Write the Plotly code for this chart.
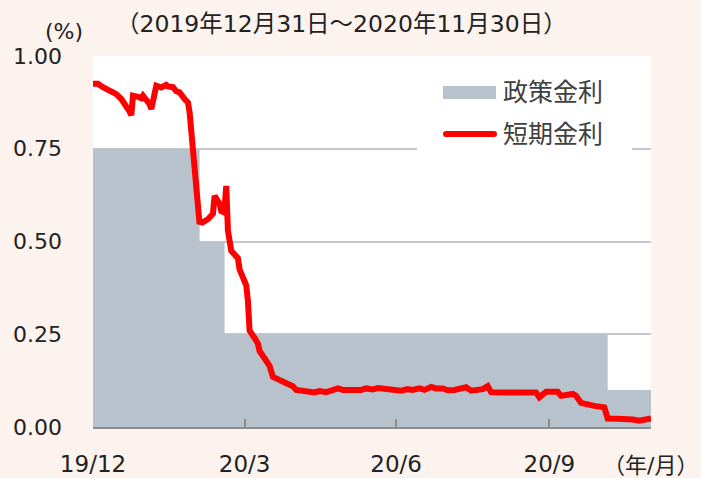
import plotly.graph_objects as go

# ---- data ----
policy_dates = ["2019-12-31", "2020-03-04", "2020-03-19", "2020-11-04", "2020-11-30"]
policy_rates = [0.75, 0.50, 0.25, 0.10, 0.10]

short_dates = [
    "2019-12-31", "2020-01-03", "2020-01-06", "2020-01-08", "2020-01-10", "2020-01-14",
    "2020-01-17", "2020-01-20", "2020-01-22", "2020-01-23", "2020-01-24", "2020-01-27",
    "2020-01-29", "2020-01-30", "2020-02-03", "2020-02-04", "2020-02-06", "2020-02-07",
    "2020-02-10", "2020-02-13", "2020-02-14", "2020-02-17", "2020-02-19", "2020-02-21",
    "2020-02-24", "2020-02-26", "2020-02-27", "2020-02-28", "2020-03-02", "2020-03-03",
    "2020-03-04", "2020-03-05", "2020-03-06", "2020-03-09", "2020-03-11", "2020-03-12",
    "2020-03-13", "2020-03-16", "2020-03-17", "2020-03-18", "2020-03-19", "2020-03-20",
    "2020-03-21", "2020-03-23", "2020-03-25", "2020-03-27", "2020-03-28", "2020-03-30",
    "2020-04-01", "2020-04-02", "2020-04-03", "2020-04-06", "2020-04-08", "2020-04-09",
    "2020-04-13", "2020-04-15", "2020-04-17", "2020-04-20", "2020-04-23", "2020-04-27",
    "2020-04-29", "2020-05-01", "2020-05-05", "2020-05-08", "2020-05-12", "2020-05-15",
    "2020-05-19", "2020-05-22", "2020-05-26", "2020-05-29", "2020-06-02", "2020-06-05",
    "2020-06-09", "2020-06-12", "2020-06-16", "2020-06-19", "2020-06-23", "2020-06-26",
    "2020-06-30", "2020-07-03", "2020-07-07", "2020-07-10", "2020-07-14", "2020-07-17",
    "2020-07-21", "2020-07-24", "2020-07-28", "2020-07-31", "2020-08-04", "2020-08-07",
    "2020-08-11", "2020-08-14", "2020-08-18", "2020-08-21", "2020-08-24", "2020-08-26",
    "2020-08-31", "2020-09-07", "2020-09-14", "2020-09-22", "2020-09-24", "2020-09-28",
    "2020-10-05", "2020-10-07", "2020-10-14", "2020-10-16", "2020-10-19", "2020-10-21",
    "2020-10-27", "2020-11-02", "2020-11-04", "2020-11-10", "2020-11-15", "2020-11-17",
    "2020-11-19", "2020-11-23", "2020-11-26", "2020-11-30",
]
short_rates = [
    0.925, 0.925, 0.916, 0.912, 0.905, 0.897,
    0.884, 0.866, 0.850, 0.840, 0.893, 0.890,
    0.886, 0.893, 0.870, 0.857, 0.905, 0.920,
    0.915, 0.922, 0.918, 0.916, 0.905, 0.902,
    0.884, 0.875, 0.848, 0.790, 0.620, 0.575,
    0.547, 0.555, 0.552, 0.560, 0.567, 0.575,
    0.623, 0.601, 0.582, 0.580, 0.590, 0.650,
    0.530, 0.475, 0.465, 0.455, 0.425, 0.400,
    0.382, 0.340, 0.260, 0.240, 0.225, 0.205,
    0.180, 0.165, 0.135, 0.128, 0.125, 0.116,
    0.110, 0.100, 0.098, 0.095, 0.093, 0.097,
    0.094, 0.098, 0.104, 0.100, 0.099, 0.102,
    0.100, 0.104, 0.101, 0.105, 0.103, 0.105,
    0.100, 0.098, 0.102, 0.100, 0.104, 0.100,
    0.108, 0.104, 0.104, 0.099, 0.100, 0.102,
    0.107, 0.098, 0.100, 0.102, 0.110, 0.094,
    0.093, 0.093, 0.093, 0.093, 0.080, 0.095,
    0.095, 0.084, 0.089, 0.084, 0.065, 0.062,
    0.057, 0.053, 0.023, 0.022, 0.022, 0.018,
    0.020, 0.017, 0.020, 0.023,
]

tick_dates = ["2019-12-31", "2020-03-31", "2020-06-30", "2020-09-30"]
tick_labels = ["19/12", "20/3", "20/6", "20/9"]
y_ticks = [0, 0.25, 0.5, 0.75, 1.0]
y_labels = ["0.00", "0.25", "0.50", "0.75", "1.00"]

series_names = ["政策金利", "短期金利"]
title_text = "（2019年12月31日～2020年11月30日）"

# ---- style ----
FONT = "DejaVu Sans, Noto Sans CJK JP, sans-serif"
POLICY_COLOR = "#B8C2CC"
SHORT_COLOR = "#FF0000"
PAPER_BG = "#FDF3EE"

W, H = 701, 478
L, R, T, B = 93, 50, 56, 51
pw, ph = W - L - R, H - T - B


def px(xp):
    return (xp - L) / pw


def py(yp):
    return (H - B - yp) / ph


fig = go.Figure()
fig.add_trace(go.Scatter(
    x=policy_dates, y=policy_rates, mode="lines", line=dict(width=0, shape="hv", color=POLICY_COLOR),
    fill="tozeroy", fillcolor=POLICY_COLOR, name=series_names[0], showlegend=False, hoverinfo="skip",
))
fig.add_trace(go.Scatter(
    x=short_dates, y=short_rates, mode="lines", line=dict(width=6, color=SHORT_COLOR),
    name=series_names[1], showlegend=False,
))

shapes = [
    # legend box
    dict(type="rect", xref="paper", yref="paper", x0=px(417), x1=px(632), y0=py(153), y1=py(63),
         fillcolor="white", line=dict(width=0), layer="above"),
    dict(type="rect", xref="paper", yref="paper", x0=px(443), x1=px(496), y0=py(99), y1=py(86),
         fillcolor=POLICY_COLOR, line=dict(width=0), layer="above"),
    dict(type="line", xref="paper", yref="paper", x0=px(446), x1=px(494), y0=py(134), y1=py(134),
         line=dict(color=SHORT_COLOR, width=6), layer="above"),
    dict(type="circle", xref="paper", yref="paper", x0=px(443), x1=px(449), y0=py(137), y1=py(131),
         fillcolor=SHORT_COLOR, line=dict(width=0), layer="above"),
    dict(type="circle", xref="paper", yref="paper", x0=px(491), x1=px(497), y0=py(137), y1=py(131),
         fillcolor=SHORT_COLOR, line=dict(width=0), layer="above"),
]

annotations = [
    dict(text=series_names[0], xref="paper", yref="paper", x=px(501), y=py(93), xanchor="left",
         yanchor="middle", showarrow=False, font=dict(size=25, color="#404040", family=FONT)),
    dict(text=series_names[1], xref="paper", yref="paper", x=px(501), y=py(134), xanchor="left",
         yanchor="middle", showarrow=False, font=dict(size=25, color="#404040", family=FONT)),
    dict(text=title_text, xref="paper", yref="paper", x=px(341), y=py(24), xanchor="center",
         yanchor="middle", showarrow=False, font=dict(size=23.5, color="#222222", family=FONT)),
    dict(text="(%)", xref="paper", yref="paper", x=px(64), y=py(32), xanchor="center",
         yanchor="middle", showarrow=False, font=dict(size=22, color="#222222", family=FONT)),
    dict(text="（年/月）", xref="paper", yref="paper", x=px(700), y=py(465), xanchor="right",
         yanchor="middle", showarrow=False, font=dict(size=22, color="#222222", family=FONT)),
]

fig.update_layout(
    width=W, height=H, autosize=False,
    margin=dict(l=L, r=R, t=T, b=B, pad=0, autoexpand=False),
    paper_bgcolor=PAPER_BG, plot_bgcolor="white",
    font=dict(family=FONT, size=22, color="#222222"),
    shapes=shapes, annotations=annotations,
    showlegend=False,
)
fig.update_xaxes(
    type="date", range=["2019-12-31", "2020-11-30"], automargin=False,
    tickmode="array", tickvals=tick_dates, ticktext=tick_labels,
    ticks="inside", ticklen=8, tickwidth=2, tickcolor="#8C8C8C",
    showline=True, linecolor="#8C8C8C", linewidth=2, showgrid=False, zeroline=False,
    ticklabelstandoff=15, tickfont=dict(size=23, color="#222222", family=FONT),
)
fig.update_yaxes(
    range=[0, 1], automargin=False, tickmode="array", tickvals=y_ticks, ticktext=y_labels,
    showgrid=True, gridcolor="#C8C8C8", gridwidth=2, zeroline=False, showline=False,
    ticks="", ticklabelstandoff=30, tickfont=dict(size=22, color="#222222", family=FONT),
)

fig.write_html(
    "out.html",
    config={"displayModeBar": False},
    post_script="document.body.style.margin='0';document.body.style.background='#FDF3EE';",
)
